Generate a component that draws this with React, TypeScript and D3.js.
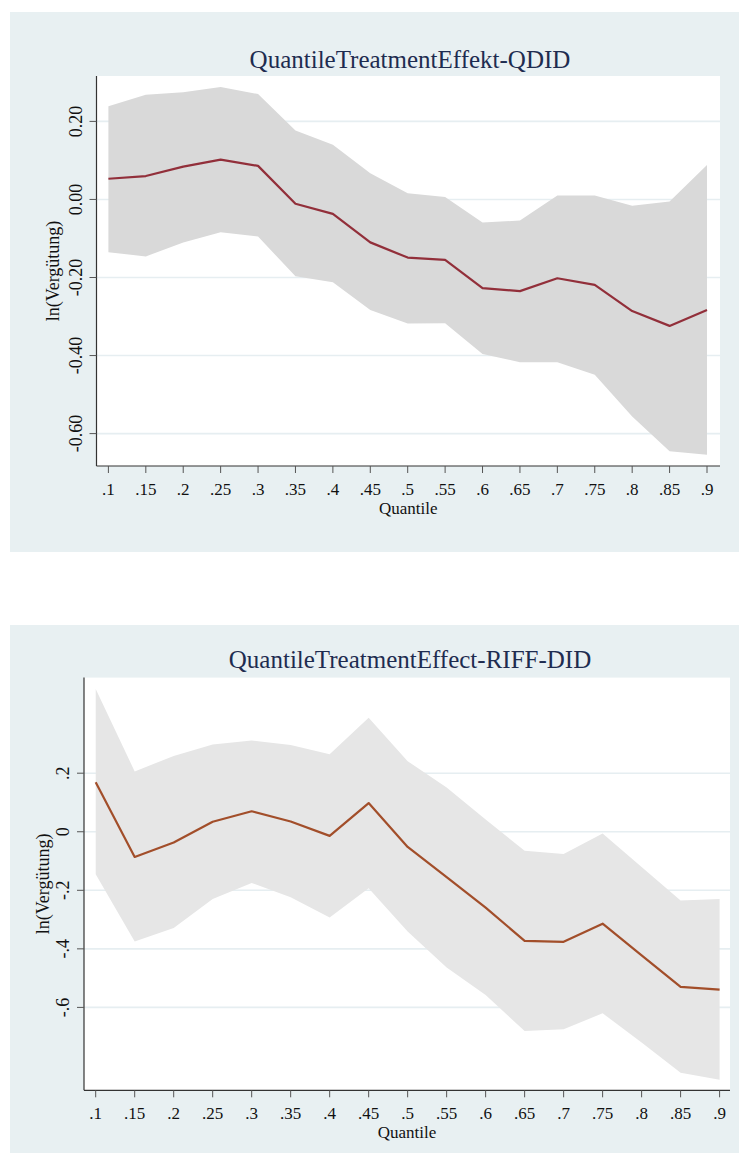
import React from 'react';
import * as d3 from 'd3';

// quantile grid shared by both panels
const quantiles = [0.1, 0.15, 0.2, 0.25, 0.3, 0.35, 0.4, 0.45, 0.5, 0.55, 0.6, 0.65, 0.7, 0.75, 0.8, 0.85, 0.9];
const quantileLabels = ['.1', '.15', '.2', '.25', '.3', '.35', '.4', '.45', '.5', '.55', '.6', '.65', '.7', '.75', '.8', '.85', '.9'];

// QDID panel
const qdidEffect = [0.053, 0.06, 0.084, 0.102, 0.086, -0.011, -0.037, -0.11, -0.149, -0.155, -0.227, -0.235, -0.202, -0.219, -0.286, -0.324, -0.283];
const qdidUpper = [0.239, 0.268, 0.275, 0.288, 0.27, 0.177, 0.14, 0.067, 0.016, 0.006, -0.059, -0.054, 0.01, 0.01, -0.016, -0.005, 0.088];
const qdidLower = [-0.135, -0.146, -0.11, -0.084, -0.095, -0.197, -0.212, -0.283, -0.318, -0.317, -0.396, -0.417, -0.417, -0.449, -0.556, -0.645, -0.654];
const qdidTicks = [0.2, 0, -0.2, -0.4, -0.6];
const qdidTickLabels = ['0.20', '0.00', '-0.20', '-0.40', '-0.60'];

// RIFF-DID panel
const riffEffect = [0.169, -0.086, -0.037, 0.034, 0.07, 0.035, -0.014, 0.098, -0.052, -0.155, -0.259, -0.373, -0.376, -0.314, -0.422, -0.53, -0.539];
const riffUpper = [0.488, 0.206, 0.259, 0.298, 0.312, 0.296, 0.265, 0.389, 0.241, 0.151, 0.042, -0.065, -0.076, -0.006, -0.12, -0.235, -0.23];
const riffLower = [-0.145, -0.375, -0.329, -0.23, -0.175, -0.224, -0.293, -0.193, -0.341, -0.464, -0.558, -0.681, -0.675, -0.62, -0.72, -0.823, -0.847];
const riffTicks = [0.2, 0, -0.2, -0.4, -0.6];
const riffTickLabels = ['.2', '0', '-.2', '-.4', '-.6'];

const FONT = '"Liberation Serif", "Times New Roman", serif';

interface PanelProps {
  title: string;
  effect: number[];
  upper: number[];
  lower: number[];
  yTicks: number[];
  yTickLabels: string[];
  box: { top: number; bottom: number }; // panel background
  plot: { left: number; right: number; top: number; bottom: number };
  xRange: [number, number]; // pixel of .1 and .9
  yRange: [number, number]; // pixel of 0.2 and -0.6
  titleY: number;
  tickLabelX: number;
  yTitleX: number;
  bandColor: string;
  lineColor: string;
}

const Panel: React.FC<PanelProps> = (p) => {
  const x = d3.scaleLinear().domain([0.1, 0.9]).range(p.xRange);
  const y = d3.scaleLinear().domain([0.2, -0.6]).range(p.yRange);
  const idx = d3.range(quantiles.length);

  const area = d3.area<number>()
    .x(i => x(quantiles[i]))
    .y0(i => y(p.lower[i]))
    .y1(i => y(p.upper[i]));
  const line = d3.line<number>()
    .x(i => x(quantiles[i]))
    .y(i => y(p.effect[i]));

  const { left, right, top, bottom } = p.plot;
  const midX = (left + right) / 2;
  const midY = (top + bottom) / 2;

  return (
    <g>
      <rect x={10} y={p.box.top} width={729} height={p.box.bottom - p.box.top} fill="#e8f0f2" />
      <rect x={left} y={top} width={right - left} height={bottom - top} fill="#ffffff" />
      <text x={410} y={p.titleY} textAnchor="middle" fontFamily={FONT} fontSize={25} fill="#1e2c50">{p.title}</text>

      {/* gridlines */}
      {p.yTicks.map(t => (
        <line key={t} x1={left} x2={right} y1={y(t)} y2={y(t)} stroke="#e6eef1" strokeWidth={1.6} />
      ))}

      <path d={area(idx) || ''} fill={p.bandColor} />
      <path d={line(idx) || ''} fill="none" stroke={p.lineColor} strokeWidth={2.2} strokeLinejoin="round" />

      {/* axes */}
      <line x1={left} x2={left} y1={top} y2={bottom} stroke="#333" strokeWidth={1.2} />
      <line x1={left} x2={right} y1={bottom} y2={bottom} stroke="#333" strokeWidth={1.2} />

      {p.yTicks.map((t, i) => (
        <g key={t}>
          <line x1={left - 7} x2={left} y1={y(t)} y2={y(t)} stroke="#555" strokeWidth={1} />
          <text transform={`translate(${p.tickLabelX},${y(t)}) rotate(-90)`} textAnchor="middle"
            fontFamily={FONT} fontSize={18} fill="#111">{p.yTickLabels[i]}</text>
        </g>
      ))}
      {quantiles.map((q, i) => (
        <g key={q}>
          <line x1={x(q)} x2={x(q)} y1={bottom} y2={bottom + 7} stroke="#555" strokeWidth={1} />
          <text x={x(q)} y={bottom + 28.5} textAnchor="middle" fontFamily={FONT} fontSize={17} fill="#111">{quantileLabels[i]}</text>
        </g>
      ))}
      <text x={midX} y={bottom + 47.5} textAnchor="middle" fontFamily={FONT} fontSize={17} fill="#111">Quantile</text>
      <text transform={`translate(${p.yTitleX},${midY}) rotate(-90)`} textAnchor="middle"
        fontFamily={FONT} fontSize={18} fill="#111">ln(Vergütung)</text>
    </g>
  );
};

export default function App() {
  return (
    <svg width={739} height={1153} style={{ position: 'absolute', left: 0, top: 0 }}>
      <rect width={739} height={1153} fill="#ffffff" />
      <Panel
        title="QuantileTreatmentEffekt-QDID"
        effect={qdidEffect} upper={qdidUpper} lower={qdidLower}
        yTicks={qdidTicks} yTickLabels={qdidTickLabels}
        box={{ top: 12, bottom: 552 }}
        plot={{ left: 96.5, right: 720, top: 76, bottom: 466 }}
        xRange={[108.4, 707]} yRange={[121.4, 433.6]}
        titleY={68} tickLabelX={81.5} yTitleX={59}
        bandColor="#d9d9d9" lineColor="#922f3a"
      />
      <Panel
        title="QuantileTreatmentEffect-RIFF-DID"
        effect={riffEffect} upper={riffUpper} lower={riffLower}
        yTicks={riffTicks} yTickLabels={riffTickLabels}
        box={{ top: 625, bottom: 1153 }}
        plot={{ left: 84, right: 730, top: 677.6, bottom: 1090.3 }}
        xRange={[95.7, 719.6]} yRange={[773.2, 1007.4]}
        titleY={667.7} tickLabelX={68.5} yTitleX={49}
        bandColor="#e6e6e6" lineColor="#a24e2a"
      />
    </svg>
  );
}
